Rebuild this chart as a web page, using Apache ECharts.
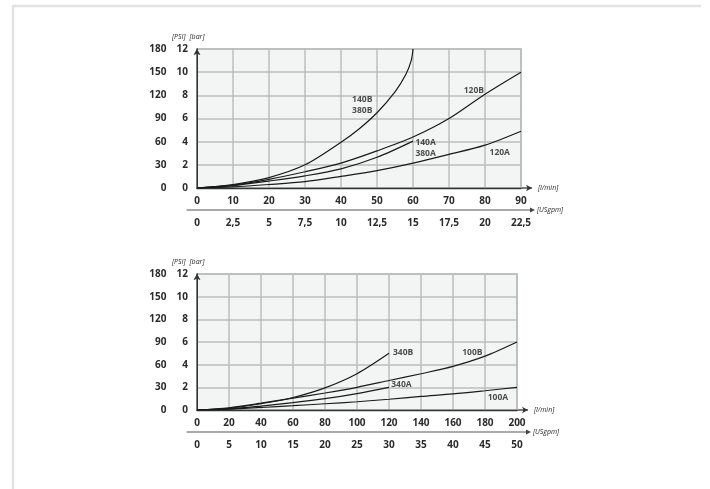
<!DOCTYPE html>
<html>
<head>
<meta charset="utf-8">
<script src="https://cdn.jsdelivr.net/npm/echarts@6/dist/echarts.min.js"></script>
<style>
html,body{margin:0;padding:0;background:#fff;}
#c{width:710px;height:489px;}
</style>
</head>
<body>
<div id="c"></div>
<script>
// ---------- DATA ----------
// Upper chart: flow [l/min] -> pressure drop [bar]
const top140B_x = [0, 10, 20, 30, 40, 45, 50, 55, 58, 59.5, 60];
const top140B_y = [0, 0.3, 0.9, 2.0, 3.95, 5.1, 6.5, 8.3, 9.8, 11.0, 12];
const top120B_x = [0, 10, 20, 30, 40, 50, 60, 70, 80, 90];
const top120B_y = [0, 0.25, 0.75, 1.4, 2.15, 3.2, 4.4, 6.0, 8.1, 10];
const top140A_x = [0, 10, 20, 30, 40, 50, 60];
const top140A_y = [0, 0.2, 0.6, 1.05, 1.65, 2.65, 4.05];
const top120A_x = [0, 10, 20, 30, 40, 50, 60, 70, 80, 90];
const top120A_y = [0, 0.1, 0.3, 0.55, 1.0, 1.5, 2.15, 2.9, 3.7, 4.9];
// labels of upper chart [text, flow, bar]
const topLabels = [["140B\n380B", 45.9, 7.12], ["140A\n380A", 63.5, 3.46], ["120B", 76.9, 8.37], ["120A", 84.1, 3.08]];

// Lower chart
const bot100B_x = [0, 20, 40, 60, 80, 100, 120, 140, 160, 180, 200];
const bot100B_y = [0, 0.2, 0.6, 1.05, 1.5, 2.0, 2.6, 3.2, 3.85, 4.75, 6.0];
const bot340B_x = [0, 20, 40, 60, 80, 100, 120];
const bot340B_y = [0, 0.15, 0.55, 1.1, 1.95, 3.2, 5.0];
const bot340A_x = [0, 20, 40, 60, 80, 100, 120];
const bot340A_y = [0, 0.1, 0.35, 0.65, 1.0, 1.45, 2.0];
const bot100A_x = [0, 20, 40, 60, 80, 100, 120, 140, 160, 180, 200];
const bot100A_y = [0, 0.08, 0.22, 0.38, 0.55, 0.73, 0.95, 1.2, 1.42, 1.7, 2.0];
const botLabels = [["340B", 128.8, 5.09], ["100B", 172.1, 5.09], ["340A", 127.8, 2.2], ["100A", 188.1, 1.12]];

// axis ranges / tick steps / axis names
const topFlowMax = 90, topFlowStep = 10, topGpmMax = 22.5, topGpmStep = 2.5;
const botFlowMax = 200, botFlowStep = 20, botGpmMax = 50, botGpmStep = 5;
const barMax = 12, barStep = 2, psiMax = 180, psiStep = 30;
const axisNames = {flow: "[l/min]", gpm: "[USgpm]", bar: "[bar]", psi: "[PSI]"};

// ---------- LAYOUT ----------
const L = 197;
const G = [{top: 49, width: 324, height: 139}, {top: 274, width: 320, height: 136}];
const FONT = '"Open Sans", "Noto Sans", sans-serif';
const TXT = '#2b2b2b';

function zip(xs, ys){ return xs.map((x,i)=>[x, ys[i]]); }

const labelStyle = {color: TXT, fontFamily: FONT, fontWeight: 'bold', fontSize: 10};

function xAxes(gi, fmax, fstep, gmax, gstep){
  return [
    {gridIndex: gi, type: 'value', min: 0, max: fmax, interval: fstep, position: 'bottom',
     axisLine: {show: true, lineStyle: {color: '#333', width: 1.3}, symbol: ['none', 'arrow'], symbolSize: [5, 6], symbolOffset: [0, 11]},
     axisTick: {show: false},
     axisLabel: Object.assign({margin: 8}, labelStyle),
     splitLine: {show: true, lineStyle: {color: '#bdbdbd', width: 1.5}}},
    {gridIndex: gi, type: 'value', min: 0, max: gmax, interval: gstep, position: 'bottom', offset: 22,
     axisLine: {show: false}, axisTick: {show: false},
     axisLabel: Object.assign({margin: 8, formatter: v => String(v).replace('.', ',')}, labelStyle),
     splitLine: {show: false}}
  ];
}
function yAxes(gi){
  return [
    {gridIndex: gi, type: 'value', min: 0, max: barMax, interval: barStep, position: 'left',
     axisLine: {show: true, lineStyle: {color: '#666', width: 1.5}, symbol: ['none', 'arrow'], symbolSize: [5, 6]},
     axisTick: {show: false},
     axisLabel: Object.assign({margin: 9}, labelStyle),
     splitLine: {show: true, lineStyle: {color: '#bdbdbd', width: 1.5}}},
    {gridIndex: gi, type: 'value', min: 0, max: psiMax, interval: psiStep, position: 'left', offset: 25.5,
     axisLine: {show: true, lineStyle: {color: '#333', width: 1}, symbol: ['none', 'arrow'], symbolSize: [5, 6]},
     axisTick: {show: false},
     axisLabel: Object.assign({margin: 5}, labelStyle),
     splitLine: {show: false}}
  ];
}

function curve(xi, yi, xs, ys){
  return {type: 'line', xAxisIndex: xi, yAxisIndex: yi, data: zip(xs, ys), smooth: 0.3,
          showSymbol: false, symbol: 'none', lineStyle: {color: '#1a1a1a', width: 1.2}, silent: true, z: 5};
}
function labels(xi, yi, arr){
  return {type: 'scatter', xAxisIndex: xi, yAxisIndex: yi, symbolSize: 0, silent: true, z: 10,
          data: arr.map(a => [a[1], a[2], a[0]]),
          label: {show: true, position: 'inside', formatter: p => p.data[2], color: '#222',
                  fontFamily: FONT, fontWeight: 'bold', fontSize: 8.5, lineHeight: 11}};
}

const graphics = [];
const nameFont = 'italic 7px ' + FONT;
function txt(x, y, s, align){
  graphics.push({type: 'text', x: x, y: y, silent: true,
                 style: {text: s, font: nameFont, fill: TXT, textAlign: align || 'left', textVerticalAlign: 'middle'}});
}
// page frame
graphics.push({type: 'line', shape: {x1: 13, y1: 6, x2: 13, y2: 489}, style: {stroke: '#e3e3e3', lineWidth: 2.5}, silent: true});
graphics.push({type: 'line', shape: {x1: 12, y1: 6, x2: 701, y2: 6}, style: {stroke: '#e3e3e3', lineWidth: 2.5}, silent: true});
G.forEach(g => {
  const right = L + g.width, bottom = g.top + g.height;
  // extension of the l/min axis line to its arrow
  graphics.push({type: 'line', shape: {x1: right, y1: bottom, x2: right + 11, y2: bottom}, style: {stroke: '#333', lineWidth: 1.3}, silent: true});
  // USgpm axis line with arrow
  const yy = bottom + 22;
  graphics.push({type: 'line', shape: {x1: L - 10.5, y1: yy, x2: right + 10, y2: yy}, style: {stroke: '#555', lineWidth: 1}, silent: true});
  graphics.push({type: 'polygon', shape: {points: [[right + 9, yy - 2.5], [right + 14, yy], [right + 9, yy + 2.5]]}, style: {fill: '#444'}, silent: true});
  // axis names
  txt(right + 17, bottom, axisNames.flow);
  txt(right + 16, yy, axisNames.gpm);
  txt(L, g.top - 12, axisNames.bar, 'center');
  txt(L - 25, g.top - 12, axisNames.psi, 'left');
});

const option = {
  backgroundColor: '#ffffff',
  animation: false,
  grid: G.map(g => ({left: L, top: g.top, width: g.width, height: g.height, show: true,
                     backgroundColor: '#f3f5f5', borderColor: '#b5b5b5', borderWidth: 1.5})),
  xAxis: xAxes(0, topFlowMax, topFlowStep, topGpmMax, topGpmStep).concat(xAxes(1, botFlowMax, botFlowStep, botGpmMax, botGpmStep)),
  yAxis: yAxes(0).concat(yAxes(1)),
  series: [
    curve(0, 0, top140B_x, top140B_y),
    curve(0, 0, top120B_x, top120B_y),
    curve(0, 0, top140A_x, top140A_y),
    curve(0, 0, top120A_x, top120A_y),
    labels(0, 0, topLabels),
    curve(2, 2, bot100B_x, bot100B_y),
    curve(2, 2, bot340B_x, bot340B_y),
    curve(2, 2, bot340A_x, bot340A_y),
    curve(2, 2, bot100A_x, bot100A_y),
    labels(2, 2, botLabels)
  ],
  graphic: graphics
};

const chart = echarts.init(document.getElementById('c'), null, {renderer: 'canvas'});
chart.setOption(option);
</script>
</body>
</html>
